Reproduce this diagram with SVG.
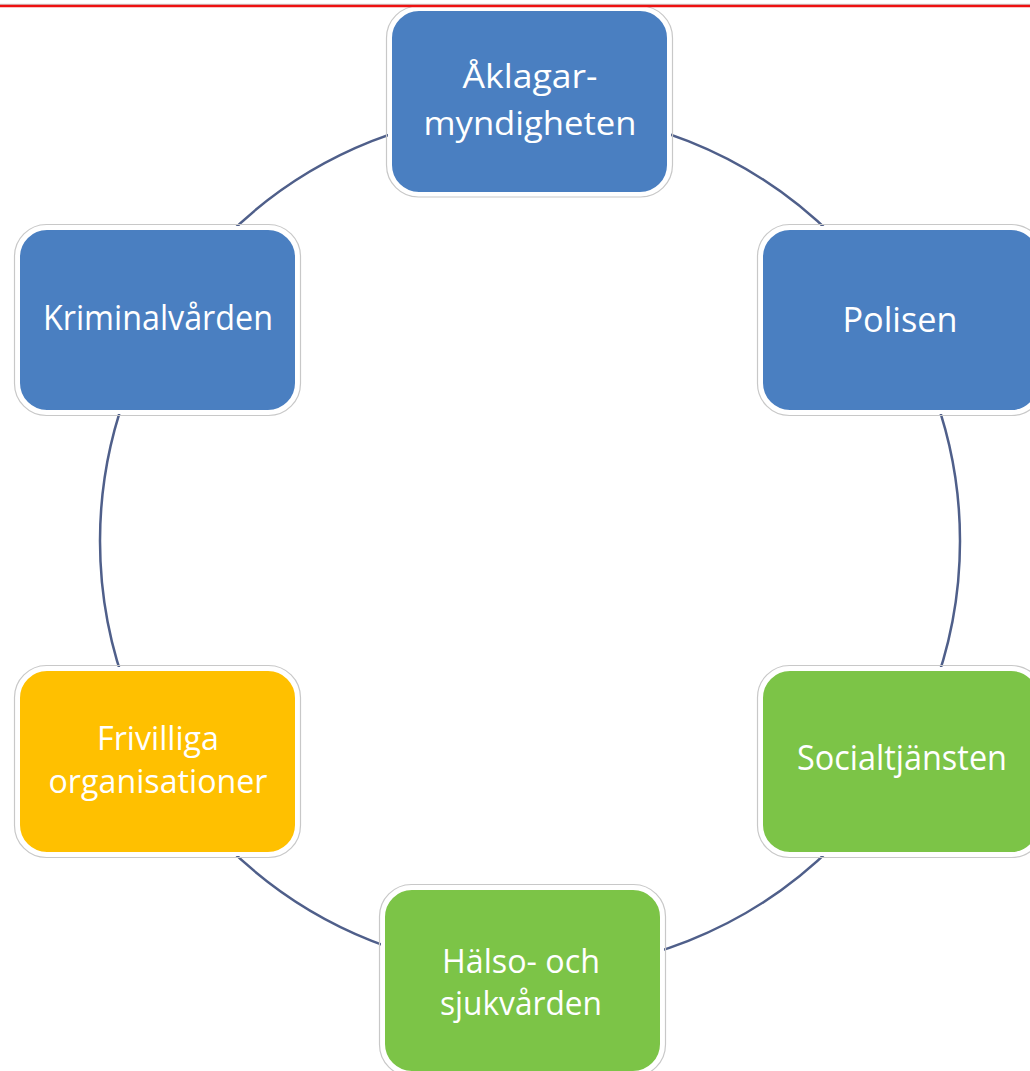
<svg xmlns="http://www.w3.org/2000/svg" width="1030" height="1071" viewBox="0 0 1030 1071">
<style>
.box{stroke:#ffffff;stroke-width:4}
.edge{fill:none;stroke:#c8c8c8;stroke-width:1.2}
.blue{fill:#4a7fc1}
.green{fill:#7cc447}
.gold{fill:#ffc000}
text{font-family:"Open Sans","Noto Sans","DejaVu Sans",sans-serif;font-size:35px;fill:#ffffff;text-anchor:middle}
.two{font-size:32px}
</style>
<rect width="1030" height="1071" fill="#ffffff"/>
<g id="connectors">
<circle cx="530" cy="541" r="430" fill="none" stroke="#4f5f8a" stroke-width="2.5"/>
</g>
<g id="aklagarmyndigheten">
<rect class="edge" x="386.5" y="6" width="286" height="191" rx="32"/>
<rect class="box blue" x="390" y="9" width="279" height="185" rx="29"/>
<text class="two" x="530" y="88" textLength="135" lengthAdjust="spacingAndGlyphs">Åklagar-</text>
<text class="two" x="530" y="135" textLength="213" lengthAdjust="spacingAndGlyphs">myndigheten</text>
</g>
<g id="kriminalvarden">
<rect class="edge" x="14.5" y="224.5" width="286" height="191" rx="32"/>
<rect class="box blue" x="18" y="228" width="279" height="184" rx="29"/>
<text x="158" y="330" textLength="230" lengthAdjust="spacingAndGlyphs">Kriminalvården</text>
</g>
<g id="polisen">
<rect class="edge" x="757.5" y="224.5" width="286" height="191" rx="32"/>
<rect class="box blue" x="761" y="228" width="279" height="184" rx="29"/>
<text x="900" y="332" textLength="115" lengthAdjust="spacingAndGlyphs">Polisen</text>
</g>
<g id="frivilliga">
<rect class="edge" x="14.5" y="665.5" width="286" height="192" rx="32"/>
<rect class="box gold" x="18" y="669" width="279" height="185" rx="29"/>
<text class="two" x="158" y="750" textLength="122" lengthAdjust="spacingAndGlyphs">Frivilliga</text>
<text class="two" x="158" y="793" textLength="219" lengthAdjust="spacingAndGlyphs">organisationer</text>
</g>
<g id="socialtjansten">
<rect class="edge" x="757.5" y="665.5" width="286" height="192" rx="32"/>
<rect class="box green" x="761" y="669" width="279" height="185" rx="29"/>
<text x="902" y="770" textLength="210" lengthAdjust="spacingAndGlyphs">Socialtjänsten</text>
</g>
<g id="halso">
<rect class="edge" x="379.5" y="884.5" width="286" height="192" rx="32"/>
<rect class="box green" x="383" y="888" width="279" height="185" rx="29"/>
<text class="two" x="521" y="973" textLength="158" lengthAdjust="spacingAndGlyphs">Hälso- och</text>
<text class="two" x="521" y="1015" textLength="162" lengthAdjust="spacingAndGlyphs">sjukvården</text>
</g>
<line x1="0" y1="4.3" x2="1030" y2="4.3" stroke="#c0c0c0" stroke-width="1"/>
<line x1="0" y1="6" x2="1030" y2="6" stroke="#ee1111" stroke-width="2.5"/>
</svg>
